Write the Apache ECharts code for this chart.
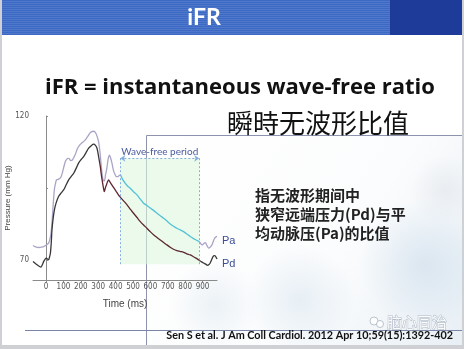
<!DOCTYPE html>
<html>
<head>
<meta charset="utf-8">
<script src="https://cdn.jsdelivr.net/npm/echarts@6/dist/echarts.min.js"></script>
<style>
  html, body { margin: 0; padding: 0; background: #cfd0d3; }
  #chart { width: 464px; height: 349px; }
</style>
</head>
<body>
<div id="chart"></div>
<script>
// Aortic (Pa) and distal (Pd) pressure traces over one beat, [time ms, mmHg]
const paTrace = [
  [-75,75.0],[-60,74.5],[-42,74.3],[-25,74.4],[-14,74.6],[0,75.1],[15,75.8],[25,78.0],[30,80.0],
  [36,84.5],[42,90.0],[48,94.5],[53,96.2],[60,97.8],[67,97.9],[78,98.3],[86,98.8],[95,100.5],
  [101,102.0],[110,104.0],[117,104.8],[125,105.3],[133,105.2],[142,104.5],[150,104.6],[160,105.6],
  [168,106.6],[180,108.6],[193,109.9],[205,110.6],[216,111.1],[228,111.9],[239,112.8],[250,113.9],
  [260,114.5],[272,114.7],[283,114.3],[293,113.0],[302,111.1],[310,107.5],[316,103.6],[322,100.0],
  [328,97.8],[335,97.4],[342,99.5],[350,102.0],[357,105.0],[364,106.4],[371,105.5],[379,103.6],
  [388,101.0],[398,99.5],[405,98.9],[412,98.9],[420,99.3],[427,99.5],[440,98.0],[456,96.6],
  [470,95.6],[484,94.9],[503,93.7],[523,92.6],[542,91.1],[561,89.7],[580,88.9],[599,88.0],
  [618,87.2],[638,86.2],[657,85.3],[676,84.5],[695,83.5],[714,82.5],[733,81.7],[752,81.0],
  [772,80.4],[791,79.8],[810,79.0],[829,78.1],[850,77.3],[866,76.8],[881,76.3],[890,75.6],
  [897,75.2],[906,75.6],[916,76.0],[925,75.0],[935,74.1],[945,74.5],[954,75.2],[962,76.5],
  [969,77.5],[978,78.0],[983,78.2]
];
const pdTrace = [
  [-75,69.4],[-63,68.8],[-52,68.3],[-40,67.8],[-29,67.5],[-20,68.5],[-14,69.4],[-6,70.2],[2,70.6],
  [8,70.3],[15,70.0],[20,71.0],[25,72.3],[30,76.0],[34,80.4],[40,84.0],[48,87.4],[58,89.8],
  [72,92.0],[86,93.2],[101,94.3],[115,96.0],[130,97.8],[145,99.0],[159,100.1],[173,101.8],
  [187,103.6],[201,104.8],[216,105.9],[230,107.3],[245,108.8],[260,109.7],[274,110.2],[284,109.8],
  [293,108.8],[302,106.0],[312,102.4],[318,99.5],[324,97.2],[330,95.0],[335,93.7],[341,95.0],
  [347,96.0],[354,97.2],[360,97.8],[368,97.0],[379,96.0],[391,94.9],[404,93.7],[415,92.7],
  [427,91.8],[446,90.5],[466,89.1],[484,87.6],[503,86.2],[522,84.8],[542,83.3],[561,82.1],
  [580,81.0],[599,79.8],[618,78.7],[638,77.8],[657,76.9],[676,76.0],[695,75.2],[714,74.4],
  [733,73.7],[752,73.2],[772,72.9],[791,72.6],[810,72.1],[829,71.7],[848,71.1],[862,70.6],
  [877,70.0],[881,69.8],[892,69.4],[906,68.9],[918,68.5],[929,68.1],[937,68.4],[944,68.9],
  [952,70.0],[960,71.1],[967,71.5],[973,71.4],[980,70.6],[983,70.3]
];
// Wave-free window (ms) and the pressure band it is drawn over (mmHg)
const wavePeriod = [427, 881];
const waveBand = [68.5, 105.3];
// Axis ticks
const timeTicks = [0, 100, 200, 300, 400, 500, 600, 700, 800, 900];
const pressureTicks = [70, 95, 120];
const pressureLabels = [70, 120];

const chart = echarts.init(document.getElementById('chart'), null, { renderer: 'canvas' });

// Header stripes
const stripes = [];
for (let y = 1; y < 35; y += 2) {
  stripes.push({ type: 'line', z: -9, silent: true,
    shape: { x1: 2, y1: y + 0.5, x2: 390, y2: y + 0.5 },
    style: { stroke: 'rgba(255,255,255,0.10)', lineWidth: 1 } });
}

const cjk = '"Noto Sans CJK SC", "Noto Sans", sans-serif';
const latin = 'Lato, "Liberation Sans", sans-serif';
const heading = '"Open Sans", Lato, sans-serif';

function glow(cx, cy, r, rgb, a) {
  return { type: 'circle', z: -9, silent: true, shape: { cx: cx, cy: cy, r: r },
    style: { fill: new echarts.graphic.RadialGradient(0.5, 0.5, 0.5, [
      { offset: 0, color: 'rgba(' + rgb + ',' + a + ')' }, { offset: 1, color: 'rgba(' + rgb + ',0)' }]) } };
}

const option = {
  backgroundColor: '#cfd0d3',
  animation: false,
  graphic: [
    // slide page
    { type: 'rect', z: -10, silent: true, shape: { x: 2, y: 0, width: 460, height: 345 }, style: { fill: '#ffffff' } },
    // photo panel
    { type: 'rect', z: -9, silent: true, shape: { x: 146, y: 135, width: 316, height: 210 },
      style: { fill: new echarts.graphic.LinearGradient(0, 0, 1, 1, [
        { offset: 0, color: '#ffffff' }, { offset: 0.6, color: '#fbfcfd' }, { offset: 1, color: '#e8eff5' }]) } },
    glow(425, 265, 65, '190,212,230', 0.45),
    glow(300, 300, 55, '200,218,232', 0.4),
    glow(215, 305, 45, '205,220,232', 0.35),
    glow(445, 190, 35, '215,220,226', 0.4),
    { type: 'line', z: -8, silent: true, shape: { x1: 146.5, y1: 135.5, x2: 462, y2: 135.5 }, style: { stroke: '#8d93ad', lineWidth: 1 } },
    { type: 'line', z: -8, silent: true, shape: { x1: 146.5, y1: 135.5, x2: 146.5, y2: 345 }, style: { stroke: '#8d93ad', lineWidth: 1 } },
    { type: 'line', z: -8, silent: true, shape: { x1: 25, y1: 330.5, x2: 462, y2: 330.5 }, style: { stroke: '#7a84a6', lineWidth: 1 } },
    // header bar
    { type: 'rect', z: -9, silent: true, shape: { x: 2, y: 0, width: 460, height: 35 }, style: { fill: '#3b69c4' } },
    ...stripes,
    { type: 'rect', z: -8, silent: true, shape: { x: 390, y: 0, width: 72, height: 35 }, style: { fill: '#1f3b9a' } },
    { type: 'text', z: 10, x: 204, y: 18,
      style: { text: 'iFR', fill: '#ffffff', font: 'bold 23px ' + latin, align: 'center', verticalAlign: 'middle' } },
    // titles
    { type: 'text', z: 10, x: 45, y: 88,
      style: { text: 'iFR = instantaneous wave-free ratio', fill: '#111111', font: 'bold 22px ' + heading, verticalAlign: 'middle' } },
    { type: 'text', z: 10, x: 318, y: 123,
      style: { text: '瞬時无波形比值', fill: '#111111', font: '26px ' + cjk, align: 'center', verticalAlign: 'middle' } },
    // description
    { type: 'text', z: 10, x: 255, y: 195,
      style: { text: '指无波形期间中', fill: '#222222', font: 'bold 15px ' + cjk, verticalAlign: 'middle' } },
    { type: 'text', z: 10, x: 255, y: 214,
      style: { text: '狭窄远端压力(Pd)与平', fill: '#222222', font: 'bold 15px ' + cjk, verticalAlign: 'middle' } },
    { type: 'text', z: 10, x: 255, y: 233,
      style: { text: '均动脉压(Pa)的比值', fill: '#222222', font: 'bold 15px ' + cjk, verticalAlign: 'middle' } },
    // watermark
    { type: 'circle', z: 9, silent: true, shape: { cx: 374, cy: 321, r: 4 }, style: { fill: 'rgba(255,255,255,0.9)', stroke: 'rgba(170,180,195,0.8)', lineWidth: 1 } },
    { type: 'circle', z: 9, silent: true, shape: { cx: 380, cy: 324, r: 3.5 }, style: { fill: 'rgba(255,255,255,0.9)', stroke: 'rgba(170,180,195,0.8)', lineWidth: 1 } },
    { type: 'text', z: 9, x: 387, y: 322,
      style: { text: '脑心同治', fill: 'rgba(255,255,255,0.95)', stroke: 'rgba(160,170,185,0.8)', lineWidth: 1, font: '15px ' + cjk, verticalAlign: 'middle' } },
    // citation
    { type: 'text', z: 10, x: 453, y: 336,
      style: { text: 'Sen S et al. J Am Coll Cardiol. 2012 Apr 10;59(15):1392-402', fill: '#111111', font: 'bold 10.8px ' + latin, align: 'right', verticalAlign: 'middle' } }
  ],
  grid: { left: 33, top: 116, width: 184, height: 164 },
  xAxis: {
    type: 'value', min: -75, max: 983,
    name: 'Time (ms)', nameLocation: 'middle', nameGap: 19,
    nameTextStyle: { color: '#444', fontSize: 10, fontFamily: '"Liberation Sans", sans-serif' },
    axisLine: { show: true, onZero: false, lineStyle: { color: '#8a8a8a', width: 1 } },
    axisTick: { show: true, length: 2, customValues: timeTicks, lineStyle: { color: '#8a8a8a' } },
    axisLabel: { customValues: timeTicks, color: '#555', fontSize: 8, margin: 3,
      fontFamily: '"Liberation Sans Narrow", "DejaVu Sans Condensed", sans-serif' },
    splitLine: { show: false }
  },
  yAxis: {
    type: 'value', min: 63, max: 120,
    name: 'Pressure (mm Hg)', nameLocation: 'middle', nameGap: 15, nameRotate: 90,
    nameTextStyle: { color: '#444', fontSize: 8, fontFamily: '"Liberation Sans", sans-serif' },
    axisLine: { show: true, lineStyle: { color: '#8a8a8a', width: 1 } },
    axisTick: { show: true, inside: true, length: 2, customValues: pressureTicks, lineStyle: { color: '#8a8a8a' } },
    axisLabel: { customValues: pressureLabels, color: '#555', fontSize: 8, margin: 4,
      fontFamily: '"Liberation Sans Narrow", "DejaVu Sans Condensed", sans-serif' },
    splitLine: { show: false }
  },
  visualMap: [
    { show: false, type: 'piecewise', seriesIndex: 0, dimension: 0,
      pieces: [
        { lt: wavePeriod[0], color: '#aaa3c6' },
        { gte: wavePeriod[0], lte: wavePeriod[1], color: '#52c2d6' },
        { gt: wavePeriod[1], color: '#aaa3c6' }] },
    { show: false, type: 'piecewise', seriesIndex: 1, dimension: 0,
      pieces: [
        { lt: 305, color: '#3a3536' },
        { gte: 305, lte: wavePeriod[1], color: '#5e2630' },
        { gt: wavePeriod[1], color: '#3a3536' }] }
  ],
  series: [
    {
      name: 'Pa', type: 'line', data: paTrace, showSymbol: false, smooth: 0.3,
      lineStyle: { width: 1.3 },
      endLabel: { show: true, formatter: 'Pa', color: '#3c4d96', fontSize: 11, distance: 5, offset: [0, 5],
        fontFamily: '"Liberation Sans", sans-serif' },
      markArea: {
        silent: true,
        itemStyle: { color: 'rgba(222,246,222,0.6)' },
        data: [[{ xAxis: wavePeriod[0], yAxis: waveBand[0] }, { xAxis: wavePeriod[1], yAxis: waveBand[1] }]]
      },
      markLine: {
        silent: true, symbol: ['none', 'none'], animation: false,
        lineStyle: { color: '#86aee0', type: [2, 2], width: 1 },
        label: { show: false },
        data: [
          [{ coord: [wavePeriod[0], waveBand[0]] }, { coord: [wavePeriod[0], waveBand[1]] }],
          [{ coord: [wavePeriod[1], waveBand[0]] }, { coord: [wavePeriod[1], waveBand[1]] }],
          [{ coord: [wavePeriod[0], waveBand[1]], symbol: 'arrow', symbolSize: 5,
             label: { show: true, formatter: 'Wave-free period', position: 'insideMiddleTop', distance: 2,
               color: '#4a5a9c', fontSize: 10, fontFamily: latin } },
           { coord: [wavePeriod[1], waveBand[1]], symbol: 'arrow', symbolSize: 5 }]
        ]
      }
    },
    {
      name: 'Pd', type: 'line', data: pdTrace, showSymbol: false, smooth: 0.3,
      lineStyle: { width: 1.3 },
      endLabel: { show: true, formatter: 'Pd', color: '#3c4d96', fontSize: 11, distance: 5, offset: [0, 5],
        fontFamily: '"Liberation Sans", sans-serif' }
    }
  ]
};
chart.setOption(option);
</script>
</body>
</html>
